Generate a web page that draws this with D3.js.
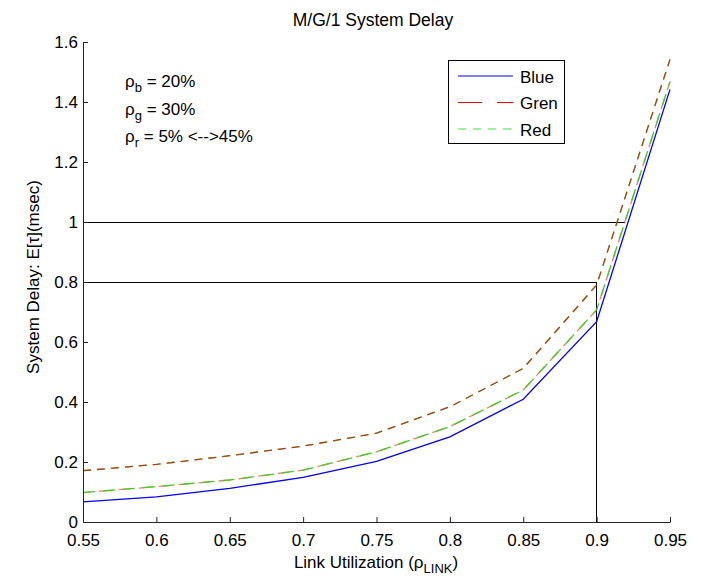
<!DOCTYPE html>
<html>
<head>
<meta charset="utf-8">
<script src="https://cdn.jsdelivr.net/npm/d3@7/dist/d3.min.js"></script>
<style>
  html, body { margin: 0; padding: 0; background: #fff; }
  svg { display: block; font-family: "Liberation Sans", Arial, Helvetica, sans-serif; }
</style>
</head>
<body>
<svg id="chart" width="704" height="578"></svg>
<script>
// ---- data ----
const rho   = [0.55, 0.60, 0.65, 0.70, 0.75, 0.80, 0.85, 0.90, 0.95];
const blue  = [0.067, 0.084, 0.112, 0.149, 0.202, 0.284, 0.409, 0.668, 1.442];
const gren  = [0.171, 0.192, 0.221, 0.253, 0.296, 0.384, 0.512, 0.790, 1.542];
const red   = [0.098, 0.118, 0.140, 0.173, 0.234, 0.318, 0.440, 0.707, 1.468];
const xTicks = [0.55, 0.6, 0.65, 0.7, 0.75, 0.8, 0.85, 0.9, 0.95];
const xTickLabels = ["0.55", "0.6", "0.65", "0.7", "0.75", "0.8", "0.85", "0.9", "0.95"];
const yTicks = [0, 0.2, 0.4, 0.6, 0.8, 1.0, 1.2, 1.4, 1.6];
const yTickLabels = ["0", "0.2", "0.4", "0.6", "0.8", "1", "1.2", "1.4", "1.6"];
const legendNames = ["Blue", "Gren", "Red"];
// reference lines (horizontal at delay levels, vertical at utilization)
const refH = [{ y: 1.0, x0: 0.55, x1: 0.919 }, { y: 0.8, x0: 0.55, x1: 0.9 }];
const refV = [{ x: 0.9, y0: 0, y1: 0.8 }];

// ---- layout ----
const svg = d3.select("#chart");
const x = d3.scaleLinear().domain([0.55, 0.95]).range([83, 670]);
const y = d3.scaleLinear().domain([0, 1.6]).range([522, 42]);
const FS = 17;

// title
svg.append("text").attr("x", 373).attr("y", 26).attr("text-anchor", "middle")
  .attr("font-size", 17.5).attr("fill", "#000").text("M/G/1 System Delay");

// reference lines
svg.append("g").selectAll("line").data(refH).join("line")
  .attr("x1", d => x(d.x0)).attr("x2", d => x(d.x1))
  .attr("y1", d => y(d.y)).attr("y2", d => y(d.y))
  .attr("stroke", "#000").attr("stroke-width", 1).attr("shape-rendering", "crispEdges");
svg.append("g").selectAll("line").data(refV).join("line")
  .attr("x1", d => x(d.x)).attr("x2", d => x(d.x))
  .attr("y1", d => y(d.y0)).attr("y2", d => y(d.y1))
  .attr("stroke", "#000").attr("stroke-width", 1).attr("shape-rendering", "crispEdges");

// lines
const line = d3.line().x((d, i) => x(rho[i])).y(d => y(d));
const plot = svg.append("g").attr("fill", "none");
// upper curve (Gren): mixed red / green dashes => brownish
plot.append("path").datum(gren).attr("d", line)
  .attr("stroke", "#33cc33").attr("stroke-width", 1.3).attr("stroke-dasharray", "8,6");
plot.append("path").datum(gren).attr("d", line)
  .attr("stroke", "#e60000").attr("stroke-width", 1.3).attr("stroke-dasharray", "8,6").attr("stroke-opacity", 0.7);
// middle curve (Red): green dashes with some red underneath
plot.append("path").datum(red).attr("d", line)
  .attr("stroke", "#cc3300").attr("stroke-width", 1.3).attr("stroke-dasharray", "12,8").attr("stroke-dashoffset", 4).attr("stroke-opacity", 0.6);
plot.append("path").datum(red).attr("d", line)
  .attr("stroke", "#44cc22").attr("stroke-width", 1.3).attr("stroke-dasharray", "12,8");
// Blue solid
plot.append("path").datum(blue).attr("d", line)
  .attr("stroke", "#0000ff").attr("stroke-width", 1.3);

// axes
const xAxis = d3.axisBottom(x).tickValues(xTicks).tickFormat((d, i) => xTickLabels[i])
  .tickSizeInner(-5).tickSizeOuter(0).tickPadding(12);
const gx = svg.append("g").attr("transform", "translate(0,522)").call(xAxis);
const yAxis = d3.axisLeft(y).tickValues(yTicks).tickFormat((d, i) => yTickLabels[i])
  .tickSizeInner(-5).tickSizeOuter(0).tickPadding(5);
const gy = svg.append("g").attr("transform", "translate(83,0)").call(yAxis);
[gx, gy].forEach(g => {
  g.selectAll("text").attr("font-size", FS).attr("fill", "#000")
    .attr("font-family", "'Liberation Sans', Arial, sans-serif");
  g.select(".domain").attr("stroke", "#222");
  g.selectAll(".tick line").attr("stroke", "#222");
});

// axis labels
const xl = svg.append("text").attr("x", 376).attr("y", 568).attr("text-anchor", "middle")
  .attr("font-size", FS).attr("fill", "#000");
xl.append("tspan").text("Link Utilization (ρ");
xl.append("tspan").attr("dy", 5).attr("font-size", 13).text("LINK");
xl.append("tspan").attr("dy", -5).text(")");

svg.append("text").attr("transform", "translate(39,277) rotate(-90)")
  .attr("text-anchor", "middle").attr("font-size", FS).attr("fill", "#000")
  .text("System Delay: E[τ](msec)");

// annotations
const notes = [["b", "20%"], ["g", "30%"], ["r", "5% <-->45%"]];
notes.forEach((n, i) => {
  const t = svg.append("text").attr("x", 125).attr("y", 87 + i * 27.5)
    .attr("font-size", FS).attr("fill", "#000");
  t.append("tspan").text("ρ");
  t.append("tspan").attr("dy", 5).attr("font-size", 13).text(n[0]);
  t.append("tspan").attr("dy", -5).text(" = " + n[1]);
});

// legend
const lg = svg.append("g");
lg.append("rect").attr("x", 448.5).attr("y", 60.5).attr("width", 116).attr("height", 83)
  .attr("fill", "#fff").attr("stroke", "#000").attr("stroke-width", 1);
const legStyles = [
  { stroke: "#0000ff", dash: null },
  { stroke: "#ff0000", dash: "24,15" },
  { stroke: "#33ee33", dash: "8,7" }
];
legendNames.forEach((name, i) => {
  const yy = 76 + i * 26.5;
  lg.append("line").attr("x1", 458).attr("x2", 513).attr("y1", yy).attr("y2", yy)
    .attr("stroke", legStyles[i].stroke).attr("stroke-width", 1.2)
    .attr("stroke-dasharray", legStyles[i].dash);
  lg.append("text").attr("x", 520).attr("y", yy + 6.5).attr("font-size", FS)
    .attr("fill", "#000").text(name);
});
</script>
</body>
</html>
